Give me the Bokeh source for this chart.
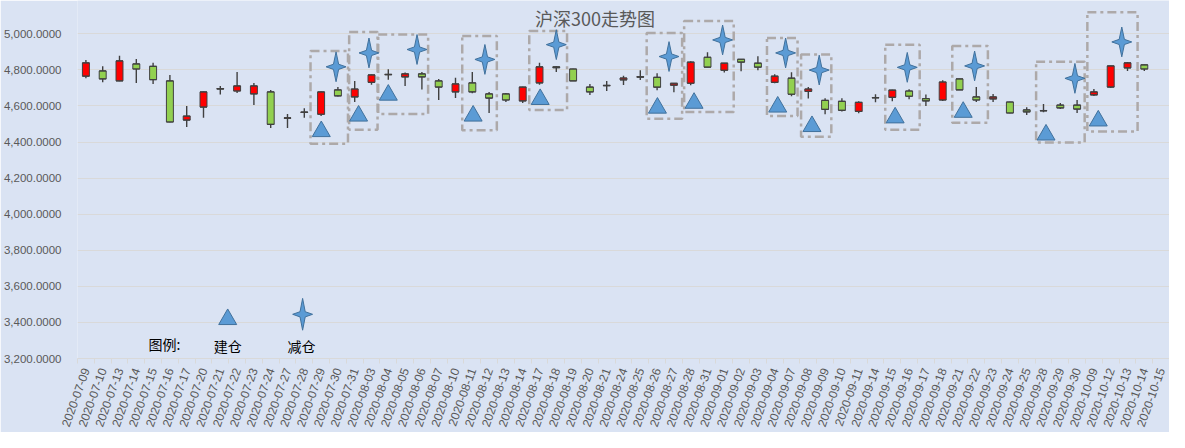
import math
from bokeh.plotting import figure
from bokeh.models import ColumnDataSource, FixedTicker, NumeralTickFormatter, Range1d
from bokeh.core.properties import value
from bokeh.embed import file_html
from bokeh.resources import INLINE

# ---------------- data ----------------
dates = ["2020-07-09", "2020-07-10", "2020-07-13", "2020-07-14", "2020-07-15", "2020-07-16",
         "2020-07-17", "2020-07-20", "2020-07-21", "2020-07-22", "2020-07-23", "2020-07-24",
         "2020-07-27", "2020-07-28", "2020-07-29", "2020-07-30", "2020-07-31", "2020-08-03",
         "2020-08-04", "2020-08-05", "2020-08-06", "2020-08-07", "2020-08-10", "2020-08-11",
         "2020-08-12", "2020-08-13", "2020-08-14", "2020-08-17", "2020-08-18", "2020-08-19",
         "2020-08-20", "2020-08-21", "2020-08-24", "2020-08-25", "2020-08-26", "2020-08-27",
         "2020-08-28", "2020-08-31", "2020-09-01", "2020-09-02", "2020-09-03", "2020-09-04",
         "2020-09-07", "2020-09-08", "2020-09-09", "2020-09-10", "2020-09-11", "2020-09-14",
         "2020-09-15", "2020-09-16", "2020-09-17", "2020-09-18", "2020-09-21", "2020-09-22",
         "2020-09-23", "2020-09-24", "2020-09-25", "2020-09-28", "2020-09-29", "2020-09-30",
         "2020-10-09", "2020-10-12", "2020-10-13", "2020-10-14", "2020-10-15"]

opens = [4765, 4794, 4739, 4833, 4820, 4739, 4522, 4594, 4694, 4683, 4667, 4678,
         4532, 4564, 4554, 4689, 4650, 4731, 4773, 4761, 4778, 4739, 4678, 4728,
         4667, 4667, 4628, 4728, 4817, 4805, 4705, 4712, 4745, 4760, 4759, 4715,
         4726, 4870, 4798, 4859, 4837, 4731, 4754, 4681, 4631, 4626, 4570, 4645,
         4648, 4683, 4641, 4633, 4750, 4650, 4639, 4622, 4578, 4573, 4605, 4605,
         4661, 4705, 4811, 4828, None]
highs = [4855, 4820, 4878, 4861, 4839, 4772, 4600, 4680, 4711, 4789, 4728, 4689,
         4556, 4587, 4680, 4705, 4739, 4774, 4804, 4785, 4789, 4750, 4756, 4789,
         4678, 4672, 4707, 4839, 4822, 4806, 4722, 4739, 4767, 4798, 4781, 4727,
         4848, 4898, 4838, 4860, 4876, 4776, 4787, 4705, 4643, 4643, 4626, 4665,
         4690, 4693, 4663, 4743, 4751, 4705, 4667, 4623, 4593, 4611, 4617, 4633,
         4694, 4823, 4844, 4829, None]
lows = [4754, 4731, 4737, 4728, 4722, 4510, 4483, 4535, 4663, 4672, 4605, 4478,
        4478, 4535, 4545, 4652, 4622, 4717, 4746, 4711, 4691, 4633, 4644, 4670,
        4561, 4622, 4617, 4717, 4789, 4738, 4661, 4683, 4716, 4744, 4687, 4676,
        4715, 4814, 4785, 4793, 4798, 4726, 4654, 4641, 4554, 4570, 4559, 4620,
        4626, 4637, 4600, 4628, 4688, 4622, 4622, 4560, 4550, 4565, 4583, 4561,
        4655, 4700, 4794, 4794, None]
closes = [4839, 4750, 4850, 4805, 4746, 4511, 4544, 4678, 4696, 4711, 4711, 4498,
          4534, 4566, 4678, 4656, 4694, 4772, 4775, 4778, 4761, 4705, 4722, 4678,
          4644, 4633, 4705, 4817, 4812, 4739, 4678, 4714, 4755, 4762, 4704, 4726,
          4843, 4815, 4837, 4843, 4815, 4765, 4665, 4694, 4581, 4576, 4620, 4647,
          4688, 4654, 4628, 4733, 4689, 4633, 4650, 4561, 4567, 4575, 4589, 4583,
          4678, 4822, 4839, 4805, None]

# position markers (x in category units from the left edge, y in index points)
build_x = [14.51, 16.73, 18.50, 23.55, 27.54, 34.52, 36.70, 41.68, 43.72, 48.67, 52.72, 57.65, 60.76]
build_y = [4459, 4545, 4661, 4545, 4637, 4589, 4616, 4595, 4487, 4535, 4566, 4440, 4518]
reduce_x = [15.39, 17.35, 20.21, 24.25, 28.50, 35.21, 38.40, 42.15, 44.15, 49.39, 53.40, 59.37, 62.16]
reduce_y = [4817, 4894, 4913, 4858, 4940, 4874, 4966, 4894, 4799, 4814, 4822, 4753, 4955]

# dashed frames around trades
box_left = [13.87, 16.17, 17.90, 22.90, 26.89, 33.88, 36.11, 41.04, 43.07, 48.08, 52.07, 57.06, 60.11]
box_right = [16.10, 17.86, 20.87, 24.96, 29.14, 35.99, 39.06, 42.86, 44.87, 50.13, 54.19, 59.95, 63.10]
box_low = [4391, 4468, 4556, 4466, 4578, 4529, 4566, 4545, 4429, 4468, 4507, 4398, 4459]
box_high = [4905, 5010, 4996, 4988, 5015, 5004, 5071, 4977, 4885, 4940, 4933, 4845, 5120]

y_ticks = [3200, 3400, 3600, 3800, 4000, 4200, 4400, 4600, 4800, 5000]

title_text = "沪深300走势图"
legend_title = "图例:"
legend_build = "建仓"
legend_reduce = "减仓"

# ---------------- layout ----------------
W, H = 1169, 432
BL, BB = 72, 72
Y0, Y1 = 3200, 5184.7
n = len(dates)
frame_w = W - BL
frame_h = H - BB
px_x = n / frame_w          # data units per px (x)
px_y = (Y1 - Y0) / frame_h  # data units per px (y)

BG = "#DAE3F3"
GRID = "#D9D9D9"
TXT = "#595959"
UP = "#FF0000"
DOWN = "#92D050"
EDGE = "#404040"
MARK = "#5B9BD5"
MARK_EDGE = "#41719C"

p = figure(width=W, height=H, output_backend="svg", toolbar_location=None,
           x_range=Range1d(0, n), y_range=Range1d(Y0, Y1),
           min_border_left=BL, min_border_right=0, min_border_top=0, min_border_bottom=BB)
p.background_fill_color = BG
p.border_fill_color = BG
p.outline_line_color = None

# axes
centers = [i + 0.5 for i in range(n)]
p.xaxis.ticker = FixedTicker(ticks=centers, minor_ticks=list(range(n + 1)))
p.xaxis.major_label_overrides = {c: d for c, d in zip(centers, dates)}
p.xaxis.major_label_orientation = math.radians(70)
p.xaxis.major_tick_line_color = None
p.xaxis.minor_tick_line_color = GRID
p.xaxis.minor_tick_in = 0
p.xaxis.minor_tick_out = 5
p.xaxis.axis_line_color = GRID
p.xaxis.major_label_text_color = TXT
p.xaxis.major_label_text_font = "Liberation Sans"
p.xaxis.major_label_text_font_size = "12px"
p.xaxis.major_label_standoff = 4

p.yaxis.ticker = FixedTicker(ticks=y_ticks)
p.yaxis.formatter = NumeralTickFormatter(format="0,0.0000")
p.yaxis.axis_line_color = None
p.yaxis.major_tick_line_color = None
p.yaxis.minor_tick_line_color = None
p.yaxis.major_label_text_color = TXT
p.yaxis.major_label_text_font = "Liberation Sans"
p.yaxis.major_label_text_font_size = "11.5px"
p.yaxis.major_label_standoff = 10

p.xgrid.grid_line_color = None
p.ygrid.ticker = FixedTicker(ticks=y_ticks)
p.ygrid.grid_line_color = GRID
p.ygrid.grid_line_width = 1

# candles
cx, h_, l_, top, bot, col = [], [], [], [], [], []
for i in range(n):
    if opens[i] is None:
        continue
    cx.append(centers[i])
    h_.append(highs[i]); l_.append(lows[i])
    top.append(max(opens[i], closes[i]))
    bot.append(min(opens[i], closes[i]))
    col.append(UP if closes[i] >= opens[i] else DOWN)
bw = 7 * px_x
src = ColumnDataSource(dict(x=cx, high=h_, low=l_, top=top, bottom=bot, color=col,
                            x0=[x - bw / 2 for x in cx], x1=[x + bw / 2 for x in cx]))
p.segment(x0="x", y0="low", x1="x", y1="high", source=src, line_color=EDGE, line_width=1.4)
p.vbar(x="x", width=bw, top="top", bottom="bottom", source=src,
       fill_color="color", line_color=EDGE, line_width=1)
p.segment(x0="x0", y0="top", x1="x1", y1="top", source=src, line_color=EDGE, line_width=1.2)
p.segment(x0="x0", y0="bottom", x1="x1", y1="bottom", source=src, line_color=EDGE, line_width=1.2)

# dashed frames
p.quad(left=box_left, right=box_right, bottom=box_low, top=box_high,
       fill_color=None, line_color="#ADA9A9", line_width=2.5, line_dash="9 4 3 4")

# 4-point star builder
def star_paths(xs, ys, hw=10, hh=15, inner=2.6):
    pxs, pys = [], []
    for x, y in zip(xs, ys):
        pts = [(0, hh), (inner, inner), (hw, 0), (inner, -inner),
               (0, -hh), (-inner, -inner), (-hw, 0), (-inner, inner)]
        pxs.append([x + a * px_x for a, b in pts])
        pys.append([y + b * px_y for a, b in pts])
    return pxs, pys

# build markers (triangles)
p.scatter(build_x, build_y, marker="triangle", size=18,
          fill_color=MARK, line_color=MARK_EDGE, line_width=1)
# reduce markers (stars)
sx, sy = star_paths(reduce_x, reduce_y)
p.patches(sx, sy, fill_color=MARK, line_color=MARK_EDGE, line_width=1)

# legend drawn inside plot
leg_tri_x, leg_tri_y = [8.94], [3417]
leg_star_x, leg_star_y = [13.40], [3445]
p.scatter(leg_tri_x, leg_tri_y, marker="triangle", size=18,
          fill_color=MARK, line_color=MARK_EDGE, line_width=1)
lsx, lsy = star_paths(leg_star_x, leg_star_y, hw=10, hh=16)
p.patches(lsx, lsy, fill_color=MARK, line_color=MARK_EDGE, line_width=1)
p.text(x=[5.18, 8.94, 13.34], y=[3280, 3272, 3272],
       text=[legend_title, legend_build, legend_reduce],
       text_font=value("Noto Sans CJK SC"), text_font_size="14px",
       text_color="#000000", text_align="center", text_baseline="middle")

# title
p.text(x=[30.8], y=[5088], text=[title_text], text_font=value("Noto Sans CJK SC"),
       text_font_size="18px", text_color=TXT, text_align="center", text_baseline="middle")

open("out.html", "w").write(file_html(p, INLINE))
